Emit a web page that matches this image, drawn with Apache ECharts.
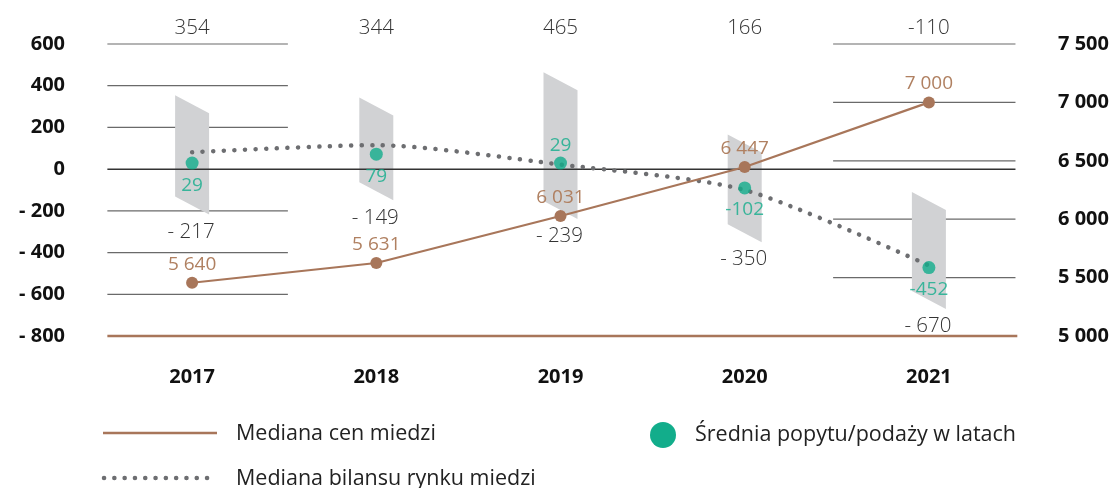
<!DOCTYPE html>
<html>
<head>
<meta charset="utf-8">
<script src="https://cdn.jsdelivr.net/npm/echarts@6/dist/echarts.min.js"></script>
<style>
html,body{margin:0;padding:0;background:#fff;}
#chart{width:1119px;height:488px;}
</style>
</head>
<body>
<div id="chart"></div>
<script>
// ---- data ----
const years = ['2017', '2018', '2019', '2020', '2021'];
const rangeHigh = [354, 344, 465, 166, -110];
const rangeLow = [-217, -149, -239, -350, -670];
const avgValues = [29, 72, 29, -90, -472];
const avgLabels = ['29', '79', '29', '-102', '-452'];
const balanceValues = [81, 115, 22, -100, -462];
const priceValues = [5456, 5625, 6027, 6447, 7000];
const priceLabels = ['5 640', '5 631', '6 031', '6 447', '7 000'];
const leftTicks = [-800, -600, -400, -200, 0, 200, 400, 600];
const rightTicks = [5000, 5500, 6000, 6500, 7000, 7500];

// ---- styles ----
const FONT = '"Open Sans", "Noto Sans", sans-serif';
const BROWN = '#a8765a';
const BROWN_TXT = '#b08061';
const GREEN = '#12ad8b';
const DOT = '#6d6e71';
const GRAY_FILL = '#d1d2d4';
const avgLabelPos = ['bottom', 'bottom', 'top', 'bottom', 'bottom'];

const chart = echarts.init(document.getElementById('chart'), null, {renderer: 'canvas'});

function segSeries(name, yIdx, data, color, width, z) {
  return {
    name: name, type: 'custom', xAxisIndex: 1, yAxisIndex: yIdx, z: z, silent: true,
    data: data,
    renderItem: function (params, api) {
      const p0 = api.coord([api.value(0), api.value(2)]);
      const p1 = api.coord([api.value(1), api.value(2)]);
      return {type: 'line', shape: {x1: p0[0], y1: p0[1], x2: p1[0], y2: p1[1]},
        style: {stroke: color, lineWidth: width}};
    }
  };
}

const leftGrid = leftTicks.filter(v => v !== 0 && v !== -800).map(v => [-0.46, 0.52, v]);
const rightGrid = rightTicks.filter(v => v !== 5000).map(v => [3.48, 4.47, v]);

const option = {
  animation: false,
  backgroundColor: '#fff',
  grid: {left: 100, right: 98, top: 44, bottom: 152},
  xAxis: [
    {type: 'category', data: years, boundaryGap: true,
      axisLine: {show: false}, axisTick: {show: false}, splitLine: {show: false},
      axisLabel: {margin: 31, fontSize: 20, fontWeight: 'bold', color: '#111', fontFamily: FONT}},
    {type: 'value', min: -0.5, max: 4.5, show: false}
  ],
  yAxis: [
    {type: 'value', min: -800, max: 600, interval: 200,
      axisLine: {show: false}, axisTick: {show: false}, splitLine: {show: false},
      axisLabel: {margin: 35, fontSize: 20, fontWeight: 'bold', color: '#111', fontFamily: FONT,
        formatter: v => v < 0 ? '- ' + Math.abs(v) : String(v)}},
    {type: 'value', min: 5000, max: 7500, interval: 500, position: 'right',
      axisLine: {show: false}, axisTick: {show: false}, splitLine: {show: false},
      axisLabel: {margin: 37, fontSize: 20, fontWeight: 'bold', color: '#111', fontFamily: FONT,
        formatter: v => String(v).replace(/\B(?=(\d{3})+(?!\d))/g, ' ')}}
  ],
  series: [
    segSeries('gridL', 0, leftGrid, '#6a6a6a', 1.2, 1),
    segSeries('gridR', 1, rightGrid, '#6a6a6a', 1.2, 1),
    {
      name: 'range', type: 'custom', xAxisIndex: 0, yAxisIndex: 0, z: 2, silent: true,
      data: years.map((y, i) => [i, rangeHigh[i], rangeLow[i]]),
      renderItem: function (params, api) {
        const hi = api.value(1), lo = api.value(2);
        const top = api.coord([api.value(0), hi]);
        const bot = api.coord([api.value(0), lo]);
        const cx = top[0], hw = 17, sk = 18;
        return {type: 'group', children: [
          {type: 'polygon', shape: {points: [[cx - hw, top[1]], [cx + hw, top[1] + sk], [cx + hw, bot[1]], [cx - hw, bot[1] - sk]]},
            style: {fill: GRAY_FILL}},
          {type: 'text', x: cx - 1, y: bot[1] + 7, style: {text: (lo < 0 ? '- ' : '') + Math.abs(lo),
            align: 'center', verticalAlign: 'top', fontSize: 20.5, fontWeight: 300, fontFamily: FONT, fill: '#333'}},
          {type: 'text', x: cx, y: params.coordSys.y - 16, style: {text: String(hi),
            align: 'center', verticalAlign: 'middle', fontSize: 20.5, fontWeight: 300, fontFamily: FONT, fill: '#333'}}
        ]};
      }
    },
    segSeries('zero', 0, [[-0.46, 4.47, 0]], '#333', 1.5, 3),
    segSeries('base', 0, [[-0.46, 4.48, -800]], BROWN, 2.5, 3),
    {
      name: 'Mediana bilansu rynku miedzi', type: 'line', xAxisIndex: 0, yAxisIndex: 0, z: 4,
      data: balanceValues, smooth: 0.25, symbol: 'none',
      lineStyle: {color: DOT, width: 4.5, type: [0.1, 10.5], cap: 'round'}
    },
    {
      name: 'Mediana cen miedzi', type: 'line', xAxisIndex: 0, yAxisIndex: 1, z: 5,
      data: priceValues, symbol: 'circle', symbolSize: 12,
      itemStyle: {color: BROWN}, lineStyle: {color: BROWN, width: 2.2},
      label: {show: true, position: 'top', distance: 3, fontSize: 19, fontFamily: FONT, color: BROWN_TXT,
        formatter: p => priceLabels[p.dataIndex]}
    },
    {
      name: 'Średnia popytu/podaży w latach', type: 'scatter', xAxisIndex: 0, yAxisIndex: 0, z: 6,
      data: avgValues.map((v, i) => ({value: v, label: {position: avgLabelPos[i], distance: avgLabelPos[i] === 'top' ? 2 : 6}})),
      symbolSize: 13, itemStyle: {color: GREEN},
      label: {show: true, fontSize: 19, fontFamily: FONT, color: GREEN,
        formatter: p => avgLabels[p.dataIndex]}
    }
  ],
  graphic: [
    {type: 'line', shape: {x1: 103, y1: 433, x2: 217, y2: 433}, style: {stroke: BROWN, lineWidth: 2.5}},
    {type: 'text', x: 236, y: 434, style: {text: 'Mediana cen miedzi', fontSize: 21.5, fontFamily: FONT, fill: '#222', verticalAlign: 'middle'}},
    {type: 'line', shape: {x1: 104, y1: 478, x2: 217, y2: 478}, style: {stroke: DOT, lineWidth: 4.5, lineDash: [0.1, 10.2], lineCap: 'round'}},
    {type: 'text', x: 236, y: 479, style: {text: 'Mediana bilansu rynku miedzi', fontSize: 21.5, fontFamily: FONT, fill: '#222', verticalAlign: 'middle'}},
    {type: 'circle', shape: {cx: 663, cy: 435, r: 13}, style: {fill: GREEN}},
    {type: 'text', x: 695, y: 435, style: {text: 'Średnia popytu/podaży w latach', fontSize: 21.5, fontFamily: FONT, fill: '#222', verticalAlign: 'middle'}}
  ]
};
chart.setOption(option);
</script>
</body>
</html>
